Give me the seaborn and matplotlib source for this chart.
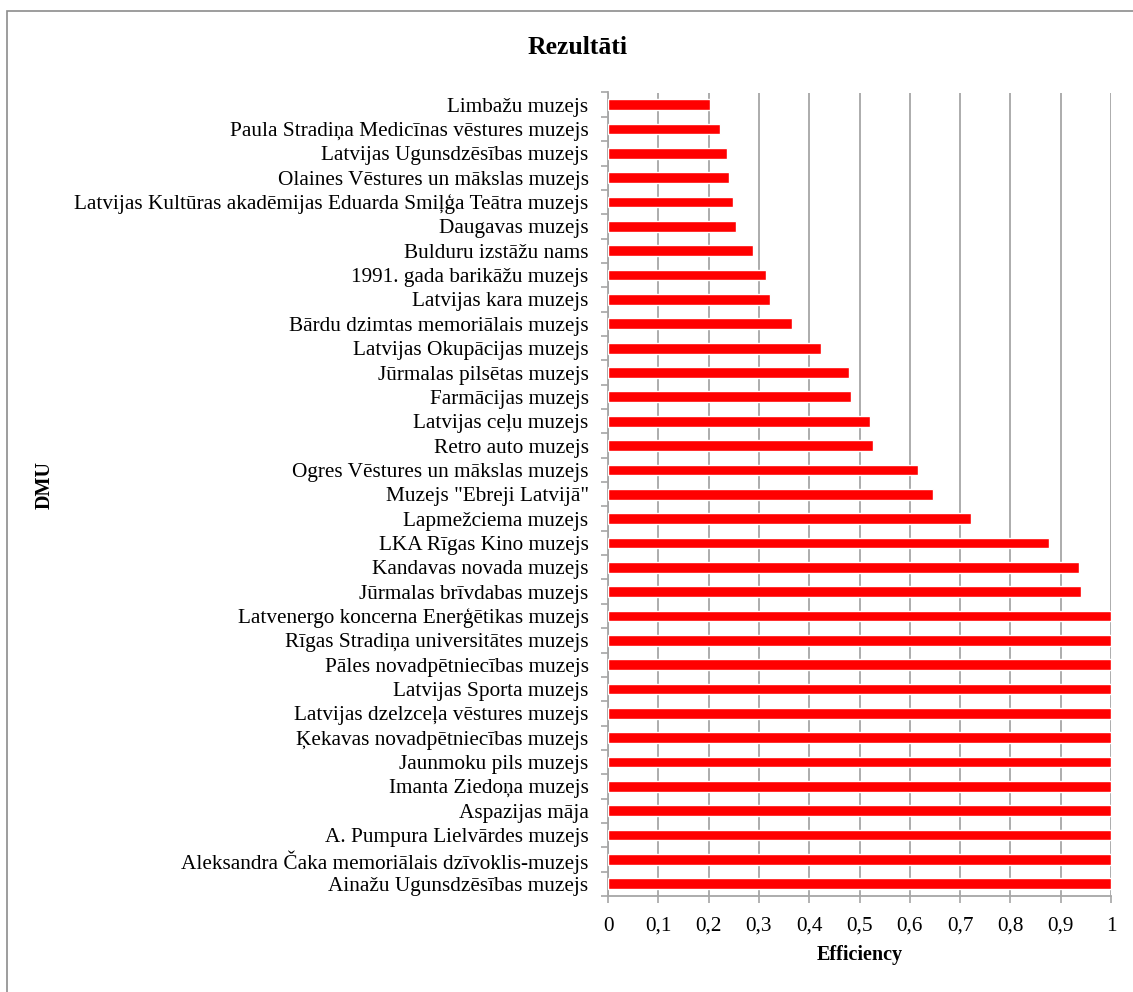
import matplotlib
matplotlib.use("Agg")
import matplotlib.pyplot as plt
from matplotlib.patches import Rectangle
from matplotlib.ticker import FixedLocator, FuncFormatter
import seaborn as sns
import pandas as pd

museums = [
    "Limbažu muzejs",
    "Paula Stradiņa Medicīnas vēstures muzejs",
    "Latvijas Ugunsdzēsības muzejs",
    "Olaines Vēstures un mākslas muzejs",
    "Latvijas Kultūras akadēmijas Eduarda Smiļģa Teātra muzejs",
    "Daugavas muzejs",
    "Bulduru izstāžu nams",
    "1991. gada barikāžu muzejs",
    "Latvijas kara muzejs",
    "Bārdu dzimtas memoriālais muzejs",
    "Latvijas Okupācijas muzejs",
    "Jūrmalas pilsētas muzejs",
    "Farmācijas muzejs",
    "Latvijas ceļu muzejs",
    "Retro auto muzejs",
    "Ogres Vēstures un mākslas muzejs",
    "Muzejs \"Ebreji Latvijā\"",
    "Lapmežciema muzejs",
    "LKA Rīgas Kino muzejs",
    "Kandavas novada muzejs",
    "Jūrmalas brīvdabas muzejs",
    "Latvenergo koncerna Enerģētikas muzejs",
    "Rīgas Stradiņa universitātes muzejs",
    "Pāles novadpētniecības muzejs",
    "Latvijas Sporta muzejs",
    "Latvijas dzelzceļa vēstures muzejs",
    "Ķekavas novadpētniecības muzejs",
    "Jaunmoku pils muzejs",
    "Imanta Ziedoņa muzejs",
    "Aspazijas māja",
    "A. Pumpura Lielvārdes muzejs",
    "Aleksandra Čaka memoriālais dzīvoklis-muzejs",
    "Ainažu Ugunsdzēsības muzejs",
]
efficiency = [
    0.203, 0.222, 0.237, 0.241, 0.248, 0.255, 0.288, 0.315, 0.323, 0.366,
    0.424, 0.480, 0.484, 0.521, 0.526, 0.616, 0.647, 0.721, 0.876, 0.936,
    0.940, 1.0, 1.0, 1.0, 1.0, 1.0, 1.0, 1.0, 1.0, 1.0, 1.0, 1.0, 1.0,
]
x_ticks = [0, 0.1, 0.2, 0.3, 0.4, 0.5, 0.6, 0.7, 0.8, 0.9, 1.0]
title = "Rezultāti"
x_label = "Efficiency"
y_label = "DMU"

df = pd.DataFrame({"DMU": museums, "Efficiency": efficiency})

sns.set_theme(style="white")
plt.rcParams["font.family"] = ["Liberation Serif", "DejaVu Serif"]
plt.rcParams["text.color"] = "black"

W, H = 1133, 992
fig = plt.figure(figsize=(W / 100, H / 100), dpi=100)
ax = fig.add_axes([608 / W, 1 - 896 / H, (1111 - 608) / W, (896 - 92.5) / H])

sns.barplot(data=df, x="Efficiency", y="DMU", orient="h", color="#FF0000",
            saturation=1, width=0.44, ax=ax, zorder=3)

ax.set_xlim(0, 1)
ax.set_ylim(len(museums) - 0.5, -0.5)

grid_col = "#A6A6A6"
ax.xaxis.set_major_locator(FixedLocator(x_ticks))
ax.xaxis.set_major_formatter(FuncFormatter(lambda v, p: ("%g" % round(v, 1)).replace(".", ",")))
ax.grid(axis="x", color=grid_col, linewidth=1.3, zorder=0)
ax.grid(axis="y", visible=False)
ax.set_axisbelow(True)

ax.yaxis.set_minor_locator(FixedLocator([i - 0.5 for i in range(len(museums) + 1)]))
ax.tick_params(axis="y", which="major", length=0, pad=14, labelsize=15.3, labelcolor="black")
ax.tick_params(axis="y", which="minor", length=5, width=1.2, color=grid_col, left=True)
ax.tick_params(axis="x", which="major", length=5, width=1.2, color=grid_col, bottom=True,
               labelsize=15.3, pad=10, labelcolor="black")

for s in ["top", "right"]:
    ax.spines[s].set_visible(False)
for s in ["left", "bottom"]:
    ax.spines[s].set_color(grid_col)
    ax.spines[s].set_linewidth(1.3)

ax.set_xlabel("")
ax.set_ylabel("")
fig.text(860 / W, 1 - 955 / H, x_label, ha="center", va="center",
         fontsize=14.5, fontweight="bold", color="black")
fig.text(45 / W, 1 - 485 / H, y_label, ha="center", va="center",
         rotation=90, fontsize=14.5, fontweight="bold", color="black")
fig.text(578 / W, 1 - 47 / H, title, ha="center", va="center",
         fontsize=18.5, fontweight="bold", color="black")

fig.patches.append(Rectangle((7 / W, -0.05), 1.1, 1 - 11 / H + 0.05,
                             transform=fig.transFigure, fill=False,
                             edgecolor="#8C8C8C", linewidth=1.2))

fig.savefig("out.png", dpi=100)
